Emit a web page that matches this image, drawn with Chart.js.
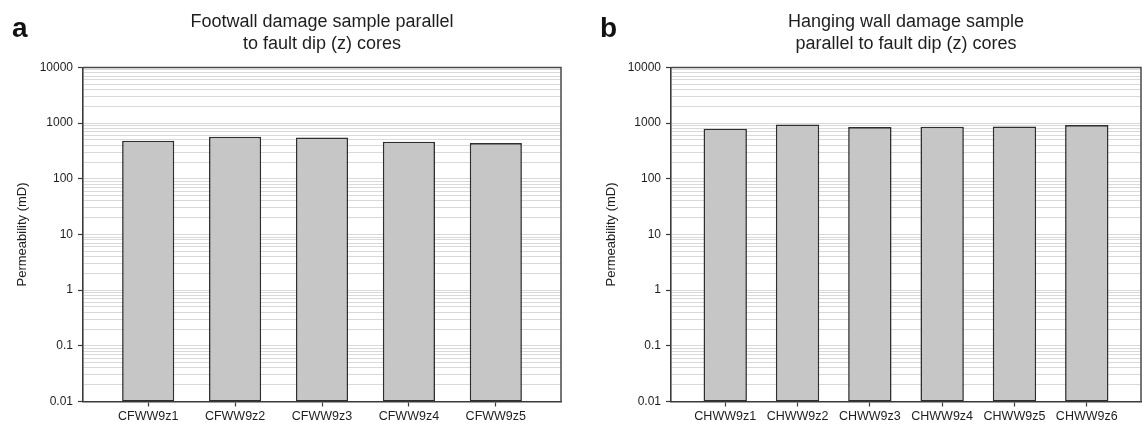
<!DOCTYPE html>
<html>
<head>
<meta charset="utf-8">
<script src="https://cdn.jsdelivr.net/npm/chart.js@4"></script>
<style>
  html, body { margin: 0; padding: 0; background: #ffffff; }
  body { width: 1142px; height: 422px; position: relative; overflow: hidden; }
  canvas { position: absolute; top: 0; }
  #chartA { left: 0; }
  #chartB { left: 571px; }
</style>
</head>
<body>
<canvas id="chartA" width="571" height="422"></canvas>
<canvas id="chartB" width="571" height="422"></canvas>
<script>
// ---- data ----
const categoriesA = ['CFWW9z1', 'CFWW9z2', 'CFWW9z3', 'CFWW9z4', 'CFWW9z5'];
const valuesA = [483, 570, 554, 464, 437];

const categoriesB = ['CHWW9z1', 'CHWW9z2', 'CHWW9z3', 'CHWW9z4', 'CHWW9z5', 'CHWW9z6'];
const valuesB = [794, 947, 848, 861, 872, 921];

const yTickLabels = ['0.01', '0.1', '1', '10', '100', '1000', '10000'];
const yTickValues = [0.01, 0.1, 1, 10, 100, 1000, 10000];

const titleA = ['Footwall damage sample parallel', 'to fault dip (z) cores'];
const titleB = ['Hanging wall damage sample', 'parallel to fault dip (z) cores'];
const yAxisTitle = 'Permeability (mD)';

// ---- styling ----
const FONT = "'Liberation Sans', Arial, Helvetica, sans-serif";
const AXIS_COLOR = '#3a3a3a';
const GRID_COLOR = '#d9d9d9';
const TEXT_COLOR = '#1e1e1e';

function isMajor(v) {
  const l = Math.log10(v);
  return Math.abs(l - Math.round(l)) < 1e-9;
}

const frameAndLetter = {
  id: 'frameAndLetter',
  afterDraw(chart, args, opts) {
    const { ctx, chartArea: a } = chart;
    ctx.save();
    ctx.strokeStyle = '#4a4a4a';
    ctx.lineWidth = 1.5;
    ctx.beginPath();
    ctx.moveTo(a.left, a.top);
    ctx.lineTo(a.right, a.top);
    ctx.lineTo(a.right, a.bottom);
    ctx.stroke();
    ctx.fillStyle = '#111';
    ctx.font = 'bold 28px ' + FONT;
    ctx.textBaseline = 'alphabetic';
    ctx.fillText(opts.letter, opts.x, opts.y);
    ctx.restore();
  }
};

function makeChart(id, cats, vals, title, cfg) {
  const n = cats.length;
  return new Chart(document.getElementById(id), {
    type: 'bar',
    data: {
      datasets: [{
        data: vals.map((v, i) => ({ x: i, y: v })),
        backgroundColor: '#c6c6c6',
        borderColor: '#2e2e2e',
        borderWidth: 1.6,
        borderSkipped: false,
        barPercentage: 0.6,
        categoryPercentage: 1.0
      }]
    },
    options: {
      responsive: false,
      animation: false,
      layout: { padding: { left: 0, right: cfg.padRight, top: 0, bottom: 0 } },
      plugins: {
        legend: { display: false },
        tooltip: { enabled: false },
        title: {
          display: true,
          text: title,
          fullSize: false,
          color: TEXT_COLOR,
          font: { family: FONT, size: 18, weight: 'normal', lineHeight: 1.22 },
          padding: { top: 11.5, bottom: 12 }
        },
        frameAndLetter: { letter: cfg.letter, x: cfg.letterX, y: 37 }
      },
      scales: {
        x: {
          type: 'linear',
          min: -0.75,
          max: n - 0.25,
          offset: false,
          afterBuildTicks: (s) => { s.ticks = cats.map((c, i) => ({ value: i })); },
          afterFit: (s) => { s.height = 20.5; },
          ticks: {
            autoSkip: false,
            maxRotation: 0,
            padding: 3,
            color: TEXT_COLOR,
            font: { family: FONT, size: 12.5 },
            callback: (v) => cats[Math.round(v)]
          },
          grid: {
            offset: false,
            drawOnChartArea: false,
            drawTicks: true,
            tickLength: 5,
            tickColor: AXIS_COLOR,
            tickWidth: 1.2
          },
          border: { display: true, color: AXIS_COLOR, width: 1.6 }
        },
        y: {
          type: 'logarithmic',
          min: 0.01,
          max: 10000,
          afterBuildTicks: (s) => {
            const t = [];
            for (let d = 0; d < yTickValues.length; d++) {
              const base = yTickValues[d];
              if (d === yTickValues.length - 1) { t.push({ value: base, major: true }); break; }
              for (let m = 1; m <= 9; m++) t.push({ value: +(base * m).toPrecision(6), major: m === 1 });
            }
            s.ticks = t;
          },
          afterFit: (s) => { s.width = cfg.yWidth; },
          ticks: {
            autoSkip: false,
            padding: 5,
            color: TEXT_COLOR,
            font: { family: FONT, size: 12 },
            callback: (v) => {
              const idx = yTickValues.findIndex(x => Math.abs(x - v) / x < 1e-9);
              return idx >= 0 ? yTickLabels[idx] : '';
            }
          },
          grid: {
            drawOnChartArea: true,
            color: (ctx) => GRID_COLOR,
            lineWidth: 1,
            drawTicks: true,
            tickLength: 5,
            tickWidth: 1.2,
            tickColor: (ctx) => (ctx.tick && isMajor(ctx.tick.value)) ? AXIS_COLOR : 'rgba(0,0,0,0)'
          },
          border: { display: true, color: AXIS_COLOR, width: 1.6 },
          title: {
            display: true,
            text: yAxisTitle,
            color: TEXT_COLOR,
            font: { family: FONT, size: 13, lineHeight: 1.2 },
            padding: { top: cfg.yTitlePad, bottom: 0 }
          }
        }
      }
    },
    plugins: [frameAndLetter]
  });
}

makeChart('chartA', categoriesA, valuesA, titleA,
  { yWidth: 83, padRight: 10, yTitlePad: 15, letter: 'a', letterX: 12 });
makeChart('chartB', categoriesB, valuesB, titleB,
  { yWidth: 100, padRight: 1, yTitlePad: 32.5, letter: 'b', letterX: 29 });
</script>
</body>
</html>
